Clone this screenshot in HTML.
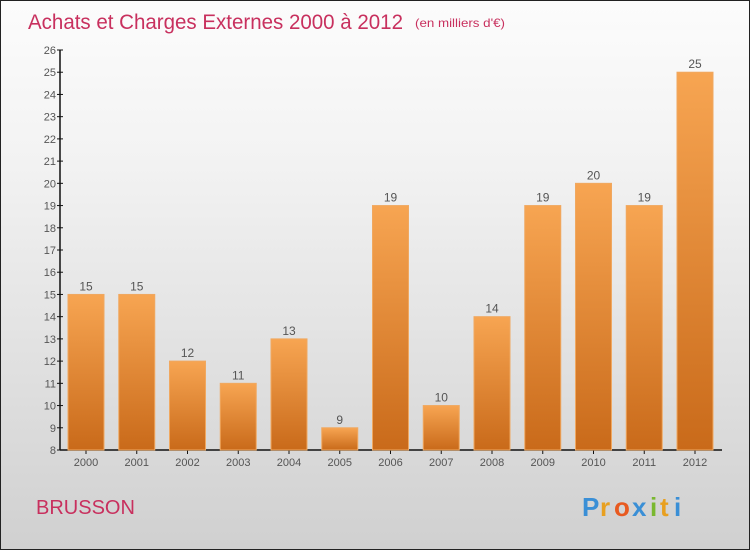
<!DOCTYPE html>
<html><head><meta charset="utf-8"><style>
body{margin:0}
#c{width:750px;height:550px;position:relative;box-sizing:border-box;border:1px solid #222;background:linear-gradient(#fcfcfc,#f2f2f2 30%,#d0d0d0);font-family:"Liberation Sans",sans-serif;overflow:hidden}
</style></head><body>
<div id="c">
<svg id="s" width="750" height="550" style="position:absolute;left:-1px;top:-1px">
<defs><linearGradient id="g" x1="0" y1="0" x2="0" y2="1"><stop offset="0" stop-color="#f7a552"/><stop offset="1" stop-color="#c96a1a"/></linearGradient></defs>
<text x="28" y="29" font-size="21" fill="#c8305e" textLength="375" lengthAdjust="spacingAndGlyphs">Achats et Charges Externes 2000 à 2012</text>
<text x="415" y="27" font-size="12" fill="#c8305e" textLength="90" lengthAdjust="spacingAndGlyphs">(en milliers d'€)</text>
<text x="36" y="514" font-size="20" fill="#c8305e">BRUSSON</text>
<g font-size="26" font-weight="bold">
<text x="582" y="516" fill="#3a8fd6">P</text><text x="600" y="516" fill="#e8a020">r</text><text x="614" y="516" fill="#e85a20">o</text><text x="632" y="516" fill="#3a8fd6">x</text><text x="650" y="516" fill="#7ab830">i</text><text x="660" y="516" fill="#e8a020">t</text><text x="674" y="516" fill="#3a8fd6">i</text>
</g>
</svg>
</div>
<script>
const years=["2000","2001","2002","2003","2004","2005","2006","2007","2008","2009","2010","2011","2012"];
const values=[15,15,12,11,13,9,19,10,14,19,20,19,25];
const yTicks=[8,9,10,11,12,13,14,15,16,17,18,19,20,21,22,23,24,25,26];
const s=document.getElementById('s');const NS='http://www.w3.org/2000/svg';
const y0=450,yMin=8,yMax=26,yTop=50;
const yS=v=>y0-(v-yMin)*(y0-yTop)/(yMax-yMin);
const xS=i=>86+i*50.75;
function mk(t,a,p){const e=document.createElementNS(NS,t);for(const k in a)e.setAttribute(k,a[k]);(p||s).appendChild(e);return e;}
const ax=mk('g',{});


mk('line',{x1:60,y1:yTop,x2:60,y2:y0,stroke:'#111','stroke-width':1.5},ax);
mk('line',{x1:60,y1:y0,x2:722,y2:y0,stroke:'#111','stroke-width':1.5},ax);
yTicks.forEach(v=>{const y=yS(v);
mk('line',{x1:57,y1:y,x2:63,y2:y,stroke:'#111'},ax);
const t=mk('text',{x:56,y:y+4,'font-size':11,'text-anchor':'end',fill:'#555'},ax);t.textContent=v;

});
years.forEach((yr,i)=>{const x=xS(i),v=values[i];
mk('line',{x1:x,y1:y0,x2:x,y2:y0+4,stroke:'#111'},ax);
const t=mk('text',{x:x,y:y0+16,'font-size':11,'text-anchor':'middle',fill:'#555'},ax);t.textContent=yr;


const b=mk('rect',{x:x-18,y:yS(v),width:36,height:y0-yS(v),fill:'url(#g)',stroke:'#f0a860','stroke-width':1});


const l=mk('text',{x:x,y:yS(v)-4,'font-size':12,'text-anchor':'middle',fill:'#555'});l.textContent=v;

});
</script>
</body></html>
